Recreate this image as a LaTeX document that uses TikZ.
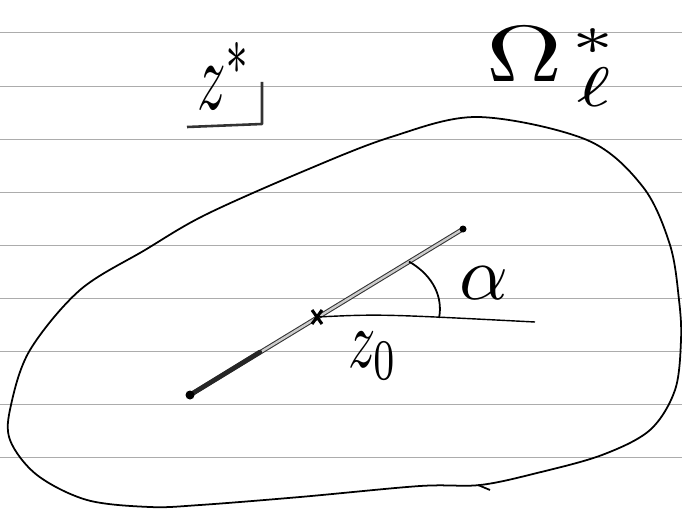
\documentclass[tikz,border=0pt]{standalone}
\usepackage{amsmath,amssymb}
\usetikzlibrary{calc}

\begin{document}
\begin{tikzpicture}[x=0.03cm,y=-0.03cm]
        \tikzset{ruling/.style={gray!65, line width=0.5pt},
                 region/.style={line width=1.5pt, line join=round},
                 ray/.style={draw=black!80, double=gray!40, double distance=2pt, line width=0.9pt, line cap=round},
                 hand/.style={xscale=4.6, yscale=7, inner sep=0pt}}
        \useasboundingbox (0,0) rectangle (682,508);
        % ruled paper
        \foreach \yy in {32,86,139,192,245,298,351,404,457}
            \draw[ruling] (0,\yy) -- (682,\yy);

        % the region
        \draw[region] plot[smooth cycle, tension=0.55] coordinates {(478,117) (587,140) (643,187) (670,245) (679,300) (681,340) (675,390) (650,430) (602,455) (537,473) (480,485) (420,486) (300,497) (200,505) (150,507) (87,500) (37,475) (10,440) (11,405) (30,350) (80,290) (145,250) (205,215) (304,171) (391,137)};
        \draw[region] (478,485) -- (490,490);

        % segment through z0
        \coordinate (lowend) at (190,395);
        \coordinate (zzero) at (317,317);
        \coordinate (upend) at (463,229);
        \coordinate (hend) at (535,322);
        \coordinate (arcstart) at ($(zzero)!0.63!(upend)$);
        \coordinate (arcend) at (439,318);
        \draw[ray] (lowend) -- (upend);
        \draw[line width=4pt, black!85, line cap=round] (lowend) -- ($(lowend)!0.55!(zzero)$);
        \fill (lowend) circle (4.5);
        \fill (upend) circle (3.5);
        \draw[line width=1.2pt] (zzero) .. controls (380,314) .. (hend);
        \draw[line width=2.6pt] ($(zzero)+(-5,-7)$) -- ($(zzero)+(5,7)$);
        \draw[line width=2.6pt] ($(zzero)+(-5,7)$) -- ($(zzero)+(5,-7)$);

        % angle
        \draw[line width=1.5pt] (arcstart) .. controls (434,276) and (443,298) .. (arcend);
        \node[inner sep=0pt, scale=6.5, anchor=base west] (alpha) at (458,299) {$\alpha$};
        \node[hand, anchor=base west] (zzerolabel) at (347,367) {$z_0$};

        % plane label
        \node[hand, xscale=1.05, yscale=1.2, anchor=base west] (zstar) at (196,110) {$z^{*}$};
        \draw[line width=2.2pt, black!80, line join=round] (262,82) -- (262,124) -- (187,127);
        \node[inner sep=0pt, xscale=9, yscale=6.8, anchor=base west] (omega) at (484,82) {$\Omega^{\mkern2mu\lower3.2pt\hbox{$\scriptstyle *$}}_{\mkern3mu\ell}$};
\end{tikzpicture}
\end{document}
